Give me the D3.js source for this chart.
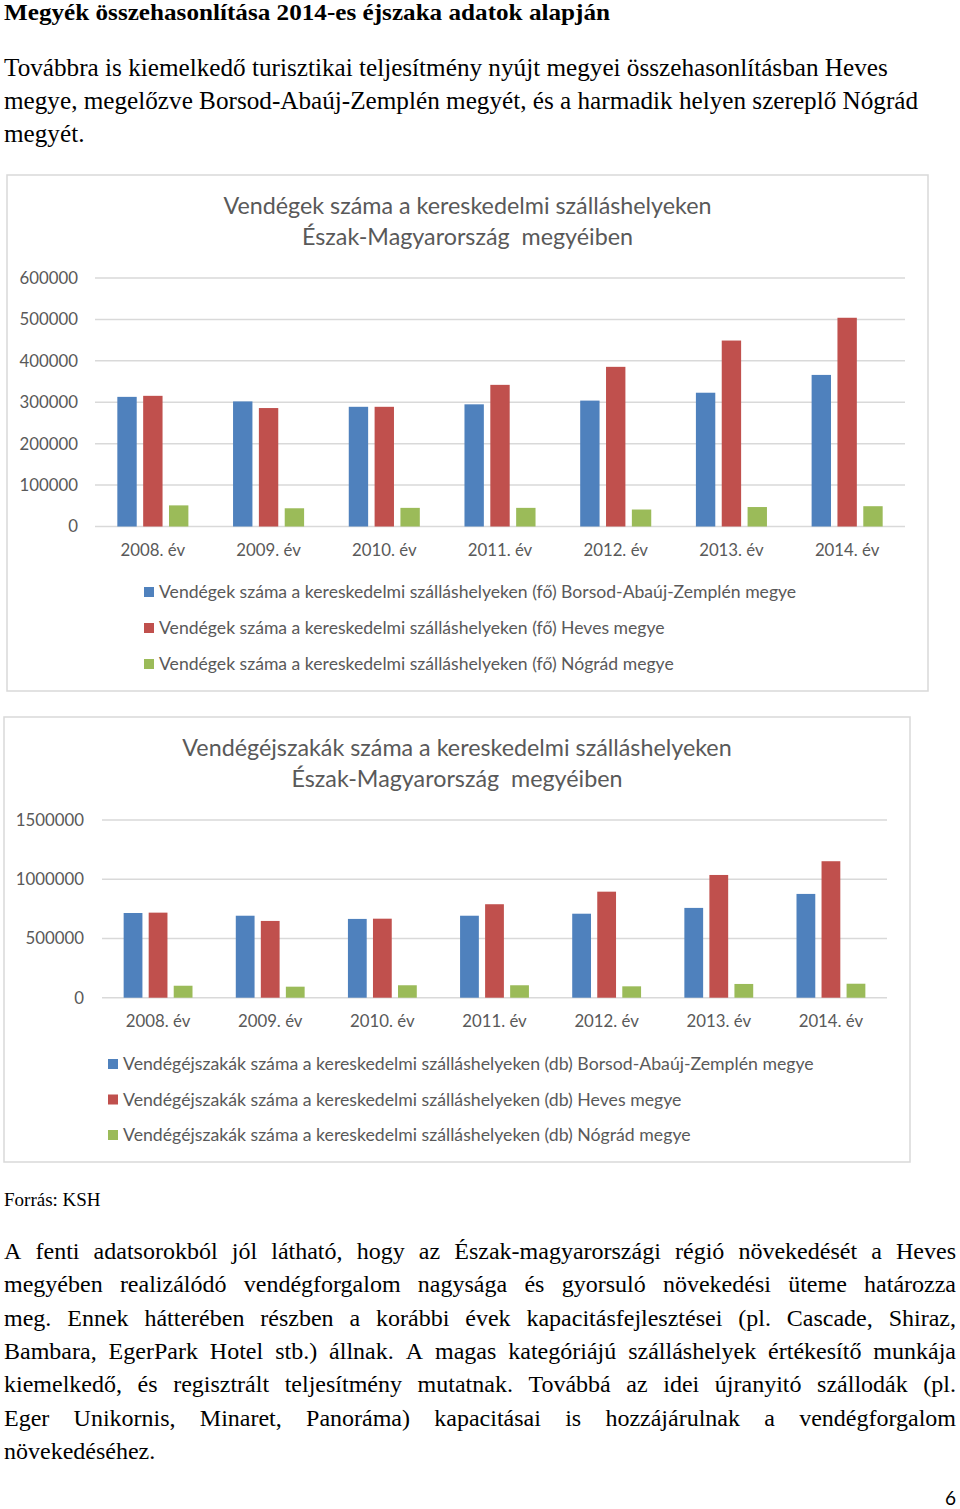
<!DOCTYPE html>
<html><head><meta charset="utf-8">
<script src="https://cdn.jsdelivr.net/npm/d3@7"></script>
<style>
html,body{margin:0;padding:0;background:#fff;}
svg{display:block;}
</style></head>
<body>
<script>
// ---------- DATA ----------
const years = ["2008. év","2009. év","2010. év","2011. év","2012. év","2013. év","2014. év"];
const seriesKeys = ["borsod","heves","nograd"];

// Chart 1: guests (fő)
const guestsBorsod = [313000, 302000, 289000, 295000, 304000, 323000, 366000];
const guestsHeves  = [315500, 286000, 289000, 342000, 385500, 449000, 504000];
const guestsNograd = [51000, 44000, 45000, 45000, 41000, 47000, 49000];
const guestsTicks  = [0, 100000, 200000, 300000, 400000, 500000, 600000];
const guestsTitle  = ["Vendégek száma a kereskedelmi szálláshelyeken", "Észak-Magyarország  megyéiben"];
const guestsLegend = [
  "Vendégek száma a kereskedelmi szálláshelyeken (fő) Borsod-Abaúj-Zemplén megye",
  "Vendégek száma a kereskedelmi szálláshelyeken (fő) Heves megye",
  "Vendégek száma a kereskedelmi szálláshelyeken (fő) Nógrád megye"
];

// Chart 2: guest nights (db)
const nightsBorsod = [715000, 692000, 665000, 692000, 709000, 758000, 876000];
const nightsHeves  = [718000, 648000, 667000, 789000, 895000, 1036000, 1152000];
const nightsNograd = [101000, 93000, 105000, 105000, 96000, 116000, 118000];
const nightsTicks  = [0, 500000, 1000000, 1500000];
const nightsTitle  = ["Vendégéjszakák száma a kereskedelmi szálláshelyeken", "Észak-Magyarország  megyéiben"];
const nightsLegend = [
  "Vendégéjszakák száma a kereskedelmi szálláshelyeken (db) Borsod-Abaúj-Zemplén megye",
  "Vendégéjszakák száma a kereskedelmi szálláshelyeken (db) Heves megye",
  "Vendégéjszakák száma a kereskedelmi szálláshelyeken (db) Nógrád megye"
];

const heading = "Megyék összehasonlítása 2014-es éjszaka adatok alapján";
const introLines = [
  "Továbbra is kiemelkedő turisztikai teljesítmény nyújt megyei összehasonlításban Heves",
  "megye, megelőzve Borsod-Abaúj-Zemplén megyét, és a harmadik helyen szereplő Nógrád",
  "megyét."
];
const source = "Forrás: KSH";
const bodyLines = [
  "A fenti adatsorokból jól látható, hogy az Észak-magyarországi régió növekedését a Heves",
  "megyében realizálódó vendégforgalom nagysága és gyorsuló növekedési üteme határozza",
  "meg. Ennek hátterében részben a korábbi évek kapacitásfejlesztései (pl. Cascade, Shiraz,",
  "Bambara, EgerPark Hotel stb.) állnak. A magas kategóriájú szálláshelyek értékesítő munkája",
  "kiemelkedő, és regisztrált teljesítmény mutatnak. Továbbá az idei újranyitó szállodák (pl.",
  "Eger Unikornis, Minaret, Panoráma) kapacitásai is hozzájárulnak a vendégforgalom",
  "növekedéséhez."
];
const pageNumber = "6";

// ---------- STYLE ----------
const colors = {borsod:"#4F81BD", heves:"#C0504D", nograd:"#9BBB59"};
const serif = "'Liberation Serif','Times New Roman',serif";
const sans = "Lato, 'Open Sans', sans-serif";
const textGray = "#595959";
const gridGray = "#D9D9D9";

const svg = d3.select("body").append("svg").attr("width",960).attr("height",1509);

// ---------- PROSE ----------
svg.append("text").attr("x",4).attr("y",20).attr("font-family",serif).attr("font-weight","bold")
  .attr("font-size",23).attr("textLength",606).attr("lengthAdjust","spacingAndGlyphs")
  .attr("fill","#000").text(heading);

introLines.forEach((l,i)=>{
  svg.append("text").attr("x",4).attr("y",76+i*33).attr("font-family",serif)
    .attr("font-size",25.2).attr("fill","#000").text(l);
});

svg.append("text").attr("x",4).attr("y",1206).attr("font-family",serif)
  .attr("font-size",19).attr("fill","#000").text(source);

function justifiedLine(str, x, y, width, justify){
  const words = str.split(" ");
  const g = svg.append("g");
  const nodes = words.map(w => g.append("text").attr("y",y).attr("font-family",serif)
     .attr("font-size",24).attr("fill","#000").text(w));
  const widths = nodes.map(n => n.node().getComputedTextLength());
  const total = d3.sum(widths);
  const space = justify && words.length>1 ? (width-total)/(words.length-1) : 6;
  let cx = x;
  nodes.forEach((n,i)=>{ n.attr("x",cx); cx += widths[i]+space; });
}
bodyLines.forEach((l,i)=>{
  justifiedLine(l, 4, 1259+i*33.3, 952, i<bodyLines.length-1);
});

svg.append("text").attr("x",956).attr("y",1505).attr("text-anchor","end").attr("font-family",sans)
  .attr("font-size",19).attr("fill","#000").text(pageNumber);

// ---------- CHARTS ----------
function drawChart(cfg){
  const g = svg.append("g");
  g.append("rect").attr("x",cfg.frame[0]).attr("y",cfg.frame[1])
    .attr("width",cfg.frame[2]-cfg.frame[0]).attr("height",cfg.frame[3]-cfg.frame[1])
    .attr("fill","#fff").attr("stroke",gridGray).attr("stroke-width",1.5);

  const cxTitle = (cfg.frame[0]+cfg.frame[2])/2;
  cfg.title.forEach((t,i)=>{
    g.append("text").attr("x",cxTitle).attr("y",cfg.titleY+i*30.5).attr("text-anchor","middle")
      .attr("font-family",sans).attr("font-size",cfg.titleSize).attr("fill",textGray)
      .style("white-space","pre").text(t);
  });

  const y = d3.scaleLinear().domain([0, d3.max(cfg.ticks)]).range([cfg.plot[3], cfg.plot[1]]);
  const x0 = d3.scaleBand().domain(years).range([cfg.plot[0], cfg.plot[2]]);
  const bw = x0.bandwidth();
  const x1 = d3.scaleBand().domain(seriesKeys).range([bw*0.193, bw*0.807]).paddingInner(0.25);

  // gridlines
  g.append("g").selectAll("line").data(cfg.ticks).join("line")
    .attr("x1",cfg.plot[0]).attr("x2",cfg.plot[2])
    .attr("y1",d=>y(d)).attr("y2",d=>y(d))
    .attr("stroke",gridGray).attr("stroke-width",1.5);

  // y labels
  g.append("g").selectAll("text").data(cfg.ticks).join("text")
    .attr("x",cfg.plot[0]-cfg.ylabGap).attr("y",d=>y(d)).attr("dy","0.35em")
    .attr("text-anchor","end").attr("font-family",sans).attr("font-size",cfg.tickSize)
    .attr("fill",textGray).text(d=>d);

  // bars
  const rows = years.map((yr,i)=>({year:yr, vals:seriesKeys.map((k,j)=>({key:k, v:cfg.data[j][i]}))}));
  g.append("g").selectAll("g").data(rows).join("g")
    .attr("transform",d=>`translate(${x0(d.year)},0)`)
    .selectAll("rect").data(d=>d.vals).join("rect")
    .attr("x",d=>x1(d.key)).attr("width",x1.bandwidth())
    .attr("y",d=>y(d.v)).attr("height",d=>y(0)-y(d.v))
    .attr("fill",d=>colors[d.key]);

  // x labels
  g.append("g").selectAll("text").data(years).join("text")
    .attr("x",d=>x0(d)+bw/2).attr("y",y(0)+cfg.xlabOffset).attr("dy","0.35em")
    .attr("text-anchor","middle").attr("font-family",sans).attr("font-size",cfg.tickSize)
    .attr("fill",textGray).text(d=>d);

  // legend
  const lg = g.append("g");
  cfg.legend.forEach((t,i)=>{
    const ly = cfg.legendY[0] + i*cfg.legendY[1];
    lg.append("rect").attr("x",cfg.legendX).attr("y",ly-5).attr("width",10).attr("height",10)
      .attr("fill",colors[seriesKeys[i]]);
    lg.append("text").attr("x",cfg.legendX+15).attr("y",ly).attr("dy","0.35em")
      .attr("font-family",sans).attr("font-size",cfg.legendSize).attr("fill",textGray).text(t);
  });
}

drawChart({
  frame:[7,175,928,691], plot:[95,278,905,526.5],
  title:guestsTitle, titleY:214, titleSize:23.3,
  ticks:guestsTicks, data:[guestsBorsod,guestsHeves,guestsNograd],
  ylabGap:17, tickSize:16.8, xlabOffset:23.5,
  legend:guestsLegend, legendX:144, legendY:[592,36], legendSize:17.6
});

drawChart({
  frame:[4,717,910,1162], plot:[102,820,887,997.7],
  title:nightsTitle, titleY:756, titleSize:23.3,
  ticks:nightsTicks, data:[nightsBorsod,nightsHeves,nightsNograd],
  ylabGap:18, tickSize:16.8, xlabOffset:23.5,
  legend:nightsLegend, legendX:108, legendY:[1064,35.5], legendSize:17.7
});
</script>
</body></html>
